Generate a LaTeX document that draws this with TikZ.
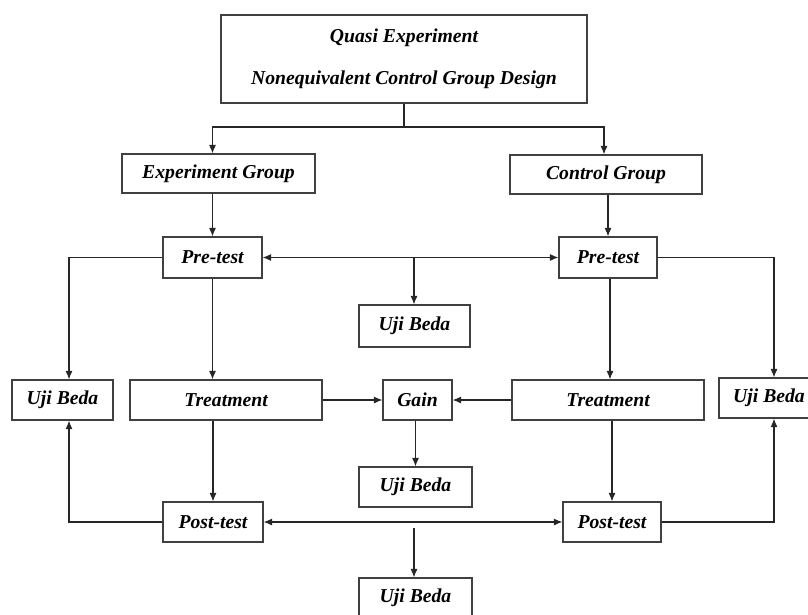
\documentclass[tikz,border=0pt]{standalone}
\usepackage{fontspec}
\setmainfont{Liberation Serif}
\usetikzlibrary{arrows.meta,positioning,calc}

\begin{document}
\begin{tikzpicture}[
    x=0.025cm, y=-0.025cm,
    box/.style={draw=black!75, line width=0.9pt, align=center, inner sep=0pt, font=\bfseries\itshape\fontsize{14}{17}\selectfont},
    line/.style={line width=0.8pt, black!85},
    arrow/.style={line, -{Latex[length=6pt,width=5pt]}},
    biarrow/.style={line, {Latex[length=6pt,width=5pt]}-{Latex[length=6pt,width=5pt]}}
  ]
    \useasboundingbox (0,0) rectangle (808,614);

    \node[box, minimum width=366*0.025cm, minimum height=88*0.025cm] (design) at (404,59) {Quasi Experiment\\[13pt]Nonequivalent Control Group Design};

    \node[box, minimum width=193*0.025cm, minimum height=39*0.025cm] (egrp) at (218.5,173.5) {Experiment Group};
    \node[box, minimum width=192*0.025cm, minimum height=39*0.025cm] (cgrp) at (606,174.5)   {Control Group};

    \node[box, minimum width=99*0.025cm, minimum height=41*0.025cm] (pre1) at (212.5,257.5) {Pre-test};
    \node[box, minimum width=98*0.025cm, minimum height=41*0.025cm] (pre2) at (608,257.5)   {Pre-test};

    \node[box, minimum width=111*0.025cm, minimum height=42*0.025cm] (ujipre) at (414.5,326) {Uji Beda};

    \node[box, minimum width=101*0.025cm, minimum height=40*0.025cm] (ujil)   at (62.5,400)  {Uji Beda};
    \node[box, minimum width=192*0.025cm, minimum height=40*0.025cm] (treat1) at (226,400)   {Treatment};
    \node[box, minimum width=69*0.025cm,  minimum height=40*0.025cm] (gain)   at (417.5,400) {Gain};
    \node[box, minimum width=192*0.025cm, minimum height=40*0.025cm] (treat2) at (608,400)   {Treatment};
    \node[box, minimum width=100*0.025cm, minimum height=40*0.025cm] (ujir)   at (769,398)   {Uji Beda};

    \node[box, minimum width=113*0.025cm, minimum height=40*0.025cm] (ujigain) at (415.5,487) {Uji Beda};

    \node[box, minimum width=100*0.025cm, minimum height=40*0.025cm] (post1) at (213,522) {Post-test};
    \node[box, minimum width=98*0.025cm,  minimum height=40*0.025cm] (post2) at (612,522) {Post-test};

    \node[box, minimum width=113*0.025cm, minimum height=40*0.025cm] (ujipost) at (415.5,598) {Uji Beda};

    \coordinate (split) at (404,127);
    \coordinate (midpre)  at (414,257.5);
    \coordinate (midpost) at (414,522);

    \draw[line] (design.south) -- (split);
    \draw[arrow] (split) -| (pre1 |- egrp.north);
    \draw[arrow] (split) -| ($(cgrp.north)+(-2,0)$);
    \draw[arrow] (pre1 |- egrp.south) -- (pre1.north);
    \draw[arrow] (pre2 |- cgrp.south) -- (pre2.north);

    \draw[biarrow] (pre1.east) -- (pre2.west);
    \draw[arrow] (midpre) -- (midpre |- ujipre.north);
    \draw[arrow] (pre1.west) -| ($(ujil.north)+(6.5,0)$);
    \draw[arrow] (pre2.east) -| ($(ujir.north)+(5,0)$);
    \draw[arrow] (pre1.south) -- (pre1.south |- treat1.north);
    \draw[arrow] ($(pre2.south)+(2,0)$) -- ($(pre2.south |- treat2.north)+(2,0)$);

    \draw[arrow] (treat1.east) -- (gain.west);
    \draw[arrow] (treat2.west) -- (gain.east);
    \draw[arrow] ($(gain.south)+(-2,0)$) -- ($(gain.south |- ujigain.north)+(-2,0)$);

    \draw[arrow] (post1.north |- treat1.south) -- (post1.north);
    \draw[arrow] (post2.north |- treat2.south) -- (post2.north);
    \draw[arrow] (post1.west) -| ($(ujil.south)+(6.5,0)$);
    \draw[arrow] (post2.east) -| ($(ujir.south)+(5,0)$);

    \draw[biarrow] (post1.east) -- (post2.west);
    \draw[arrow] ($(midpost)+(0,6)$) -- (midpost |- ujipost.north);
\end{tikzpicture}
\end{document}
